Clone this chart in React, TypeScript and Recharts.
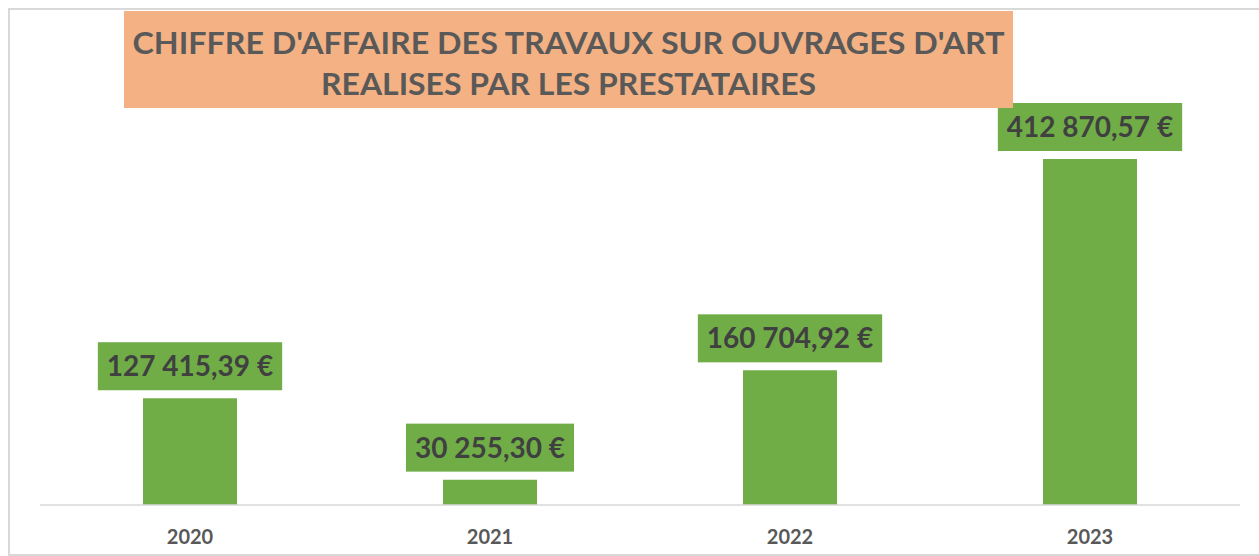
import { BarChart, Bar, XAxis, YAxis, LabelList } from 'recharts'

const years = ['2020', '2021', '2022', '2023']
const revenue = [127415.39, 30255.3, 160704.92, 412870.57]

const titleLines = ["CHIFFRE D'AFFAIRE DES TRAVAUX SUR OUVRAGES D'ART", 'REALISES PAR LES PRESTATAIRES']

const data = years.map((y, i) => ({ year: y, value: revenue[i] }))

const FONT = 'Lato, "Open Sans", sans-serif'
const GREEN = '#70ad47'

function euro(v: number): string {
  const [int, dec] = v.toFixed(2).split('.')
  return int.replace(/\B(?=(\d{3})+(?!\d))/g, ' ') + ',' + dec + ' €'
}

let ctx: CanvasRenderingContext2D | null = null
function textWidth(s: string, font: string): number {
  if (!ctx) ctx = document.createElement('canvas').getContext('2d')
  if (!ctx) return s.length * 15
  ctx.font = font
  return ctx.measureText(s).width
}

function ValueBox(props: any) {
  const { x, y, width, value } = props
  const label = euro(Number(value))
  const w = textWidth(label, `bold 28px Lato`) + 18
  const cx = x + width / 2
  const bottom = y - 8
  return (
    <g>
      <rect x={cx - w / 2} y={bottom - 48} width={w} height={48} fill={GREEN} />
      <text x={cx} y={bottom - 14} textAnchor="middle" fontFamily={FONT} fontWeight="bold" fontSize={28} fill="#404040">
        {label}
      </text>
    </g>
  )
}

function YearTick(props: any) {
  const { x, y, payload } = props
  return (
    <text x={x} y={y + 31} textAnchor="middle" fontFamily={FONT} fontWeight="bold" fontSize={20} fill="#595959">
      {payload.value}
    </text>
  )
}

export default function App() {
  return (
    <div style={{ position: 'absolute', left: 0, top: 0, width: 1259, height: 556, overflow: 'hidden', background: '#fff' }}>
      <div style={{ position: 'absolute', left: 8, top: 8, width: 1260, height: 544, border: '2px solid #d9d9d9' }} />
      <div style={{ position: 'absolute', left: 0, top: 0 }}>
        <BarChart width={1259} height={556} data={data} margin={{ top: 86, right: 19, left: 40, bottom: 21 }}>
          <XAxis
            dataKey="year"
            height={30}
            tickLine={false}
            axisLine={{ stroke: '#d9d9d9', strokeWidth: 1.5 }}
            tick={<YearTick />}
            interval={0}
          />
          <YAxis hide domain={[0, 500000]} />
          <Bar dataKey="value" fill={GREEN} barSize={94} isAnimationActive={false}>
            <LabelList dataKey="value" content={<ValueBox />} />
          </Bar>
        </BarChart>
      </div>
      <div style={{ position: 'absolute', left: 124, top: 11, width: 889, height: 97, background: '#f4b183' }}>
        <svg width={889} height={97}>
          <text x={444.5} y={43} textAnchor="middle" fontFamily={FONT} fontWeight="bold" fontSize={30} fill="#595959" textLength={872} lengthAdjust="spacingAndGlyphs">
            {titleLines[0]}
          </text>
          <text x={444.5} y={84} textAnchor="middle" fontFamily={FONT} fontWeight="bold" fontSize={30} fill="#595959" textLength={495} lengthAdjust="spacingAndGlyphs">
            {titleLines[1]}
          </text>
        </svg>
      </div>
    </div>
  )
}
